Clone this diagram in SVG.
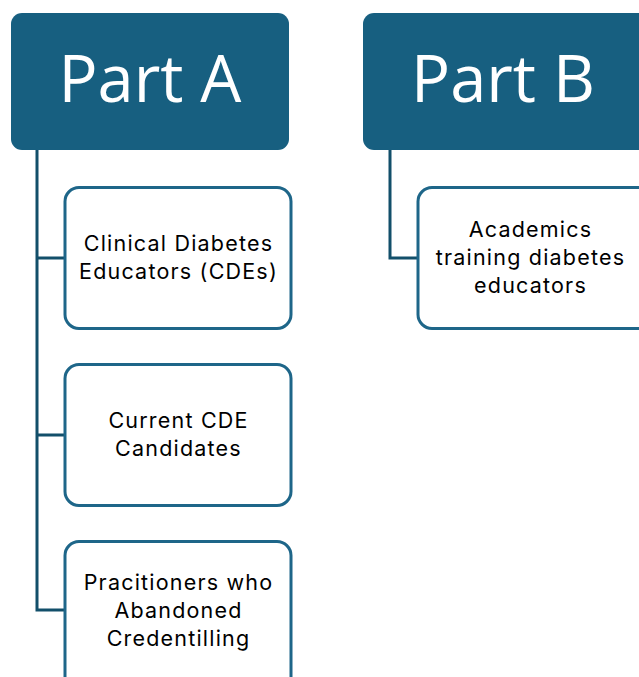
<svg xmlns="http://www.w3.org/2000/svg" width="639" height="677" viewBox="0 0 639 677">
<style>
.head{fill:#175f80;}
.headtxt{font-family:"Open Sans","Liberation Sans",sans-serif;font-size:65px;fill:#ffffff;text-anchor:middle;}
.child{fill:#ffffff;stroke:#1e6689;stroke-width:3;}
.txt{font-family:Inter,"Open Sans","Liberation Sans",sans-serif;font-size:21.5px;letter-spacing:1.2px;fill:#000000;text-anchor:middle;}
.conn{fill:none;stroke:#124f6a;stroke-width:3;}
</style>
<rect width="639" height="677" fill="#ffffff"/>
<g id="connectors">
<path class="conn" d="M37 150 V610 H65 M37 258 H65 M37 435 H65"/>
<path class="conn" d="M390 150 V258 H418"/>
</g>
<g id="partA">
<rect class="head" x="11" y="13" width="278" height="137" rx="11"/>
<text class="headtxt" x="150" y="102">Part A</text>
</g>
<g id="partB">
<rect class="head" x="363" y="13" width="290" height="137" rx="11"/>
<text class="headtxt" x="503" y="102">Part B</text>
</g>
<g id="cde">
<rect class="child" x="65" y="187.5" width="226" height="141" rx="14"/>
<text class="txt" x="178.5" y="250.5">Clinical Diabetes</text>
<text class="txt" x="178.5" y="278.5">Educators (CDEs)</text>
</g>
<g id="candidates">
<rect class="child" x="65" y="364.5" width="226" height="141" rx="14"/>
<text class="txt" x="178.5" y="427.5">Current CDE</text>
<text class="txt" x="178.5" y="455.5">Candidates</text>
</g>
<g id="abandoned">
<rect class="child" x="65" y="541.5" width="226" height="150" rx="14"/>
<text class="txt" x="178.5" y="589.5">Pracitioners who</text>
<text class="txt" x="178.5" y="617.5">Abandoned</text>
<text class="txt" x="178.5" y="645.5">Credentilling</text>
</g>
<g id="academics">
<rect class="child" x="418" y="187.5" width="240" height="141" rx="14"/>
<text class="txt" x="530.5" y="236.5">Academics</text>
<text class="txt" x="530.5" y="264.5">training diabetes</text>
<text class="txt" x="530.5" y="292.5">educators</text>
</g>
</svg>
